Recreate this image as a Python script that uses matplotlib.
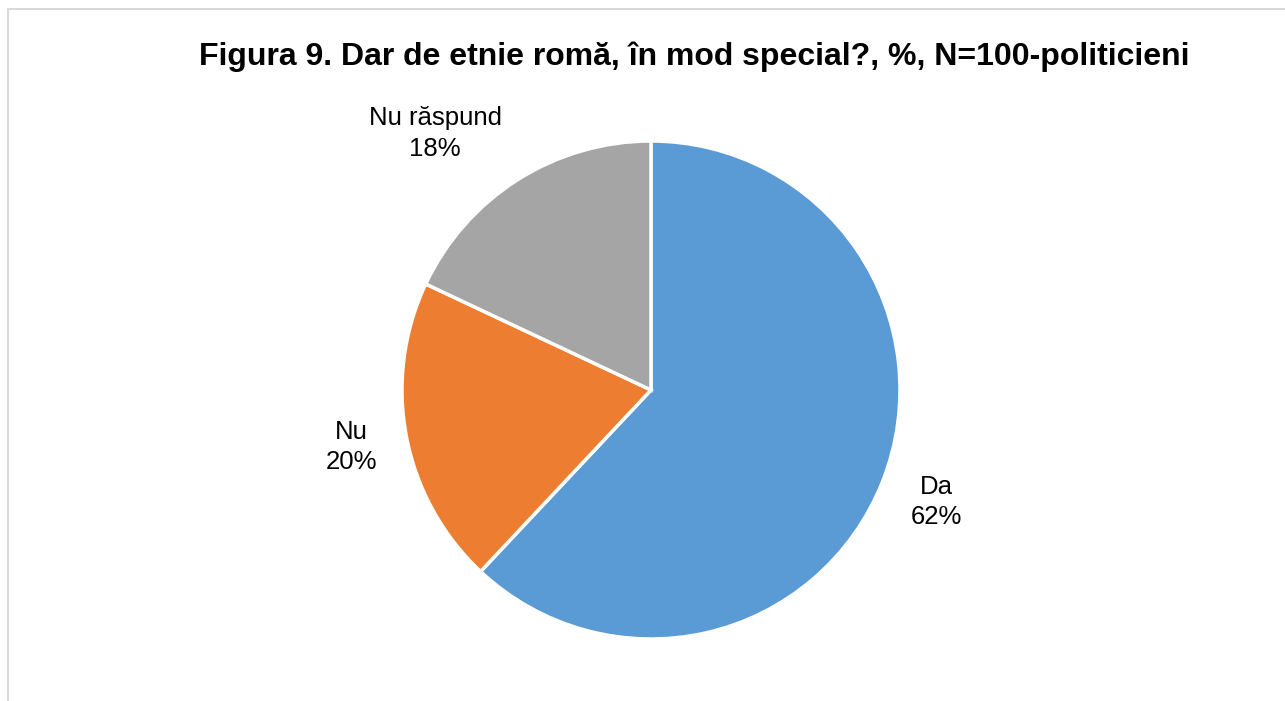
import matplotlib
matplotlib.use('Agg')
import matplotlib.pyplot as plt
from matplotlib.patches import Rectangle

plt.rcParams['font.family'] = ['Liberation Sans', 'DejaVu Sans']

labels = ['Da', 'Nu', 'Nu răspund']
values = [62, 20, 18]
colors = ['#5b9bd5', '#ed7d31', '#a5a5a5']
title = 'Figura 9. Dar de etnie romă, în mod special?, %, N=100-politicieni'

W, H = 1285, 701
fig = plt.figure(figsize=(W / 100, H / 100), dpi=100)

# light gray chart frame (left and top edges visible)
fig.patches.append(Rectangle((8 / W, -0.1), 1.2, (H - 9) / H + 0.1, transform=fig.transFigure,
                             fill=False, edgecolor='#d9d9d9', linewidth=1.5))

cx, cy, r = 651, 390, 249
ax = fig.add_axes([(cx - r) / W, (H - cy - r) / H, 2 * r / W, 2 * r / H])

texts_lbl = [f'{l}\n{v}%' for l, v in zip(labels, values)]
wedges, texts = ax.pie(values, labels=texts_lbl, colors=colors, startangle=90, counterclock=False,
                       radius=1, labeldistance=1.0,
                       wedgeprops=dict(edgecolor='white', linewidth=2.5),
                       textprops=dict(fontsize=18.5, color='#000000', va='center',
                                      multialignment='center', linespacing=1.35))
# push labels out a bit more vertically than horizontally, like Excel does
for t in texts:
    x, y = t.get_position()
    t.set_position((x * 1.12, y * 1.22))

ax.set_xlim(-1, 1)
ax.set_ylim(-1, 1)
ax.set_aspect('equal')
ax.axis('off')

fig.text(694 / W, 1 - 57 / H, title, ha='center', va='center', fontsize=23, fontweight='bold')

fig.savefig('out.png', dpi=100)
